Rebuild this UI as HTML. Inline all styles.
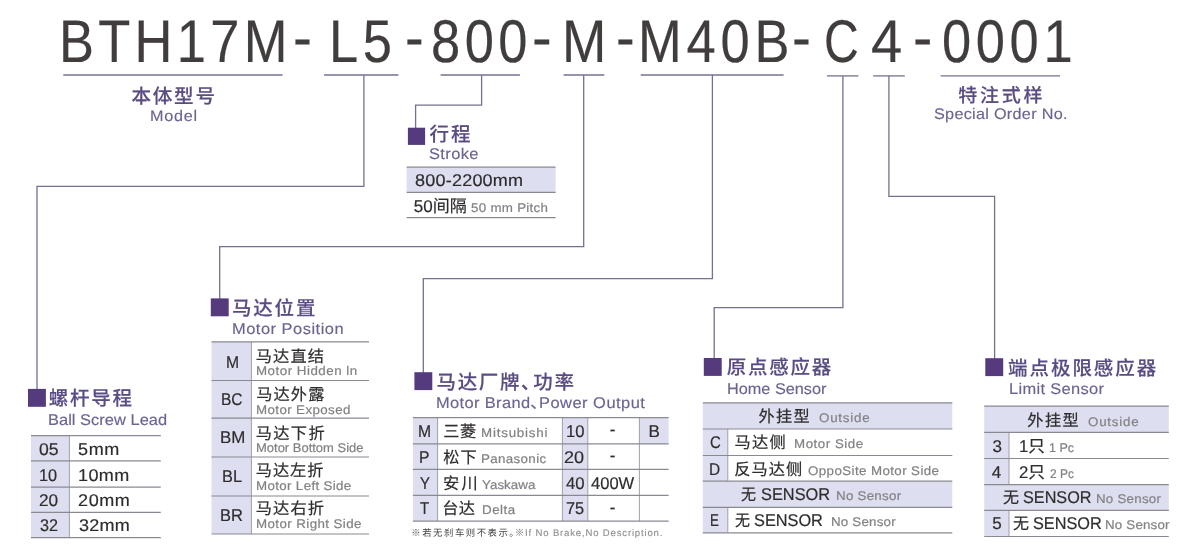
<!DOCTYPE html>
<html lang="zh-CN">
<head>
<meta charset="utf-8">
<title>BTH17M Ordering Code</title>
<style>
*{margin:0;padding:0;box-sizing:border-box}
html,body{width:1200px;height:557px;background:#fff;overflow:hidden}
body{font-family:"Liberation Sans", "Noto Sans CJK SC", sans-serif;position:relative;color:#2f2c2d}
#stage{position:absolute;left:0;top:0;width:1200px;height:557px;overflow:hidden;background:#fff;will-change:transform;-webkit-font-smoothing:antialiased;text-rendering:geometricPrecision}
section{position:absolute;left:0;top:0;width:1200px;height:557px}
h1,h2,p{font:inherit}
svg{position:absolute;left:0;top:0;display:block;overflow:visible}
.fill{fill:#dddff0}
.mark{fill:#553a7e}
.bord{fill:none;stroke:#8a8992;stroke-width:1.2}
.vbord{fill:none;stroke:#a09fac;stroke-width:1}
.conn{fill:none;stroke:#74718f;stroke-width:1.3;stroke-linejoin:miter}
.t{position:absolute;display:block;white-space:nowrap;line-height:1;transform-origin:0 0}
.c0{color:#403d3c}
.c1{color:#5a4b83}
.c2{color:#6b6391}
.c3{color:#2f2c2d}
.c4{color:#838183}
.c5{color:#474445}
.c6{color:#8f8d8f}
.k0{-webkit-text-stroke:0.2px currentColor}
.k1{-webkit-text-stroke:0.15px currentColor}
.k2{-webkit-text-stroke:0px currentColor}
.k3{-webkit-text-stroke:0.1px currentColor}
</style>
</head>
<body>
<div id="stage">
<section id="code">
<svg width="1200" height="557" viewBox="0 0 1200 557" aria-hidden="true">
<path class="conn" d="M63.3 75H282.5"/>
<path class="conn" d="M940.7 75.9H1060"/>
</svg>
<h1>
<span class="t c0 k0" style="left:59.33px;top:11px;font-size:60.3px;letter-spacing:4.92px;transform:scaleX(0.8700)">BTH17M</span>
<span class="t c0 k0" style="left:293.22px;top:7px;font-size:60.3px;transform:scaleX(0.9427)">-</span>
<span class="t c0 k0" style="left:328.5px;top:11px;font-size:60.3px;letter-spacing:5.37px;transform:scaleX(0.8700)">L5</span>
<span class="t c0 k0" style="left:404.95px;top:7px;font-size:60.3px;transform:scaleX(0.9303)">-</span>
<span class="t c0 k0" style="left:430.96px;top:11px;font-size:60.3px;letter-spacing:5.18px;transform:scaleX(0.8700)">800</span>
<span class="t c0 k0" style="left:531.85px;top:7px;font-size:60.3px;transform:scaleX(0.9802)">-</span>
<span class="t c0 k0" style="left:562.13px;top:11px;font-size:60.3px;transform:scaleX(0.8833)">M</span>
<span class="t c0 k0" style="left:616.48px;top:7px;font-size:60.3px;transform:scaleX(0.9293)">-</span>
<span class="t c0 k0" style="left:638.2px;top:11px;font-size:60.3px;letter-spacing:5.5px;transform:scaleX(0.8700)">M40B</span>
<span class="t c0 k0" style="left:791.87px;top:7px;font-size:60.3px;transform:scaleX(0.9427)">-</span>
<span class="t c0 k0" style="left:824.05px;top:11px;font-size:60.3px;transform:scaleX(0.7973)">C</span>
<span class="t c0 k0" style="left:870.72px;top:11px;font-size:60.3px;transform:scaleX(0.9295)">4</span>
<span class="t c0 k0" style="left:913.42px;top:7px;font-size:60.3px;transform:scaleX(0.9637)">-</span>
<span class="t c0 k0" style="left:942.41px;top:11px;font-size:60.3px;letter-spacing:5.31px;transform:scaleX(0.8700)">0001</span>
</h1>
<h2 class="t c1 k1" style="left:131.49px;top:88px;font-size:19.6px;letter-spacing:1.71px;font-weight:500">本体型号</h2>
<p class="t c2 k1" style="left:149.73px;top:109px;font-size:15.3px;letter-spacing:0.68px;transform:scaleX(1.0600)">Model</p>
<h2 class="t c1 k1" style="left:958.31px;top:87px;font-size:19px;letter-spacing:2.73px;font-weight:500">特注式样</h2>
<p class="t c2 k1" style="left:934.39px;top:107px;font-size:15.3px;letter-spacing:0.27px;transform:scaleX(1.0600)">Special Order No.</p>
</section>
<section id="lead">
<svg width="1200" height="557" viewBox="0 0 1200 557" aria-hidden="true">
<rect class="fill" x="31" y="435.7" width="38.4" height="102"/>
<path class="vbord" d="M69.4 435.7V537.7"/>
<path class="bord" d="M31 435.7H160.8"/>
<path class="bord" d="M31 460.9H160.8"/>
<path class="bord" d="M31 487.1H160.8"/>
<path class="bord" d="M31 512.3H160.8"/>
<path class="bord" d="M31 537.7H160.8"/>
<path class="conn" d="M324.1 75H398.4"/>
<path class="conn" d="M363.9 75V186.4H37V389.9"/>
<rect class="mark" x="28" y="388.9" width="17.9" height="17.9"/>
</svg>
<h2 class="t c1 k1" style="left:48.79px;top:390px;font-size:19.5px;letter-spacing:1.74px;font-weight:500">螺杆导程</h2>
<p class="t c2 k1" style="left:47.92px;top:413px;font-size:15.5px;letter-spacing:0.03px;transform:scaleX(1.0600)">Ball Screw Lead</p>
<span class="t c3 k0" style="left:38.85px;top:441px;font-size:17px;transform:scaleX(1.0345)">05</span>
<span class="t c3 k0" style="left:78.14px;top:441px;font-size:17px;letter-spacing:0.59px;transform:scaleX(1.0600)">5mm</span>
<span class="t c3 k0" style="left:39.03px;top:467px;font-size:17px;transform:scaleX(0.9585)">10</span>
<span class="t c3 k0" style="left:78.07px;top:467px;font-size:17px;letter-spacing:0.38px;transform:scaleX(1.0600)">10mm</span>
<span class="t c3 k0" style="left:38.99px;top:492px;font-size:17px;transform:scaleX(1.0119)">20</span>
<span class="t c3 k0" style="left:77.96px;top:492px;font-size:17px;letter-spacing:0.57px;transform:scaleX(1.0600)">20mm</span>
<span class="t c3 k0" style="left:39.51px;top:517px;font-size:17px;transform:scaleX(0.9533)">32</span>
<span class="t c3 k0" style="left:78.59px;top:517px;font-size:17px;letter-spacing:0.2px;transform:scaleX(1.0600)">32mm</span>
</section>
<section id="stroke">
<svg width="1200" height="557" viewBox="0 0 1200 557" aria-hidden="true">
<rect class="fill" x="406.6" y="167.2" width="149" height="25.1"/>
<path class="bord" d="M406.6 167.2H555.6"/>
<path class="bord" d="M406.6 192.3H555.6"/>
<path class="bord" d="M406.6 217.6H555.6"/>
<path class="conn" d="M440.6 75H519.9"/>
<path class="conn" d="M481.6 75V105.2H415.6V128.7"/>
<rect class="mark" x="407.9" y="127.7" width="17.2" height="17.2"/>
</svg>
<h2 class="t c1 k1" style="left:429.5px;top:126px;font-size:19.5px;letter-spacing:2.01px;font-weight:500">行程</h2>
<p class="t c2 k1" style="left:428.99px;top:147px;font-size:15.5px;letter-spacing:0.36px;transform:scaleX(1.0600)">Stroke</p>
<span class="t c3 k0" style="left:414.54px;top:172px;font-size:17px;letter-spacing:0.2px;transform:scaleX(1.0600)">800-2200mm</span>
<span class="t c3 k0" style="left:413.77px;top:198px;font-size:17px;letter-spacing:0.04px">50间隔</span>
<span class="t c4 k0" style="left:470.52px;top:202px;font-size:12.6px;letter-spacing:0.26px;transform:scaleX(1.0600)">50 mm Pitch</span>
</section>
<section id="motorpos">
<svg width="1200" height="557" viewBox="0 0 1200 557" aria-hidden="true">
<rect class="fill" x="211.5" y="341.8" width="39.9" height="192.2"/>
<path class="vbord" d="M251.4 341.8V534"/>
<path class="bord" d="M211.5 341.8H369"/>
<path class="bord" d="M211.5 380.5H369"/>
<path class="bord" d="M211.5 418.2H369"/>
<path class="bord" d="M211.5 457H369"/>
<path class="bord" d="M211.5 496H369"/>
<path class="bord" d="M211.5 534H369"/>
<path class="conn" d="M563.6 75H604.3"/>
<path class="conn" d="M583.7 75V246.6H219.7V299.4"/>
<rect class="mark" x="210.8" y="298.4" width="17.9" height="17.9"/>
</svg>
<h2 class="t c1 k1" style="left:231.91px;top:300px;font-size:19.5px;letter-spacing:1.83px;font-weight:500">马达位置</h2>
<p class="t c2 k1" style="left:231.72px;top:322px;font-size:15.5px;letter-spacing:0.48px;transform:scaleX(1.0600)">Motor Position</p>
<span class="t c3 k0" style="left:225.67px;top:354px;font-size:17px;transform:scaleX(0.9241)">M</span>
<span class="t c3 k0" style="left:255.74px;top:349px;font-size:16.2px;letter-spacing:1.14px">马达直结</span>
<span class="t c4 k0" style="left:255.54px;top:365px;font-size:12.6px;letter-spacing:0.47px;transform:scaleX(1.0600)">Motor Hidden ln</span>
<span class="t c3 k0" style="left:220.65px;top:391px;font-size:17px;transform:scaleX(0.9133)">BC</span>
<span class="t c3 k0" style="left:256.29px;top:387px;font-size:16.2px;letter-spacing:1.1px">马达外露</span>
<span class="t c4 k0" style="left:255.94px;top:404px;font-size:12.6px;letter-spacing:0.36px;transform:scaleX(1.0600)">Motor Exposed</span>
<span class="t c3 k0" style="left:220.03px;top:429px;font-size:17px;transform:scaleX(0.9945)">BM</span>
<span class="t c3 k0" style="left:255.74px;top:426px;font-size:16.2px;letter-spacing:1.36px">马达下折</span>
<span class="t c4 k0" style="left:255.97px;top:442px;font-size:12.6px;transform:scaleX(1.0303)">Motor Bottom Side</span>
<span class="t c3 k0" style="left:221.72px;top:468px;font-size:17px;transform:scaleX(0.9610)">BL</span>
<span class="t c3 k0" style="left:255.74px;top:463px;font-size:16.2px;letter-spacing:0.96px">马达左折</span>
<span class="t c4 k0" style="left:255.94px;top:480px;font-size:12.6px;letter-spacing:0.32px;transform:scaleX(1.0600)">Motor Left Side</span>
<span class="t c3 k0" style="left:220.01px;top:507px;font-size:17px;transform:scaleX(0.9678)">BR</span>
<span class="t c3 k0" style="left:255.74px;top:501px;font-size:16.2px;letter-spacing:1.19px">马达右折</span>
<span class="t c4 k0" style="left:255.94px;top:518px;font-size:12.6px;letter-spacing:0.38px;transform:scaleX(1.0600)">Motor Right Side</span>
</section>
<section id="brand">
<svg width="1200" height="557" viewBox="0 0 1200 557" aria-hidden="true">
<rect class="fill" x="412.9" y="417.6" width="24.7" height="103.6"/>
<rect class="fill" x="562.4" y="417.6" width="25.4" height="103.6"/>
<rect class="fill" x="639.4" y="417.6" width="29.2" height="26.3"/>
<path class="vbord" d="M437.6 417.6V521.2"/>
<path class="vbord" d="M562.4 417.6V521.2"/>
<path class="vbord" d="M587.8 417.6V521.2"/>
<path class="vbord" d="M639.4 417.6V521.2"/>
<path class="bord" d="M412.9 417.6H668.6"/>
<path class="bord" d="M412.9 443.9H668.6"/>
<path class="bord" d="M412.9 469.4H668.6"/>
<path class="bord" d="M412.9 495.4H668.6"/>
<path class="bord" d="M412.9 521.2H668.6"/>
<path class="conn" d="M640.7 75H783.6"/>
<path class="conn" d="M712.4 75V278.6H423.3V373.2"/>
<rect class="mark" x="414.4" y="372.2" width="17.9" height="17.9"/>
</svg>
<h2 class="t c1 k1" style="left:436.49px;top:374px;font-size:19.5px;letter-spacing:1.67px;font-weight:500">马达厂牌</h2>
<h2 class="t c1 k1" style="left:521.48px;top:374px;font-size:19.5px;transform:scaleX(0.9684);font-weight:500">、</h2>
<h2 class="t c1 k1" style="left:533.19px;top:374px;font-size:19.5px;letter-spacing:1.72px;font-weight:500">功率</h2>
<p class="t c2 k1" style="left:436.12px;top:396px;font-size:15.5px;letter-spacing:0.35px;transform:scaleX(1.0600)">Motor Brand</p>
<p class="t c2 k1" style="left:530.37px;top:396px;font-size:15.5px;transform:scaleX(1.1250)">、</p>
<p class="t c2 k1" style="left:538.72px;top:396px;font-size:15.5px;letter-spacing:0.47px;transform:scaleX(1.0600)">Power Output</p>
<span class="t c3 k0" style="left:418.37px;top:423px;font-size:17px;transform:scaleX(0.9241)">M</span>
<span class="t c3 k0" style="left:443.14px;top:424px;font-size:16.2px;letter-spacing:0.57px">三菱</span>
<span class="t c4 k0" style="left:480.74px;top:427px;font-size:12.6px;letter-spacing:0.75px;transform:scaleX(1.0600)">Mitsubishi</span>
<span class="t c3 k0" style="left:565.66px;top:423px;font-size:17px;transform:scaleX(0.9757)">10</span>
<span class="t c3 k0" style="left:609.67px;top:421px;font-size:17px">-</span>
<span class="t c3 k0" style="left:419.27px;top:449px;font-size:17px;transform:scaleX(0.9250)">P</span>
<span class="t c3 k0" style="left:443.29px;top:450px;font-size:16.2px;letter-spacing:0.97px">松下</span>
<span class="t c4 k0" style="left:480.64px;top:453px;font-size:12.6px;letter-spacing:0.33px;transform:scaleX(1.0600)">Panasonic</span>
<span class="t c3 k0" style="left:564.36px;top:449px;font-size:17px;letter-spacing:0.05px;transform:scaleX(1.0600)">20</span>
<span class="t c3 k0" style="left:609.67px;top:447px;font-size:17px">-</span>
<span class="t c3 k0" style="left:419.87px;top:475px;font-size:17px;transform:scaleX(0.8723)">Y</span>
<span class="t c3 k0" style="left:442.99px;top:476px;font-size:16.2px;letter-spacing:2.43px">安川</span>
<span class="t c4 k0" style="left:481.69px;top:479px;font-size:12.6px;letter-spacing:0.03px;transform:scaleX(1.0600)">Yaskawa</span>
<span class="t c3 k0" style="left:565.54px;top:475px;font-size:17px;transform:scaleX(0.9824)">40</span>
<span class="t c3 k0" style="left:590.64px;top:475px;font-size:17px;transform:scaleX(0.9729)">400W</span>
<span class="t c3 k0" style="left:419.8px;top:500px;font-size:17px;transform:scaleX(0.8800)">T</span>
<span class="t c3 k0" style="left:442.18px;top:501px;font-size:16.2px;letter-spacing:0.43px">台达</span>
<span class="t c4 k0" style="left:481.54px;top:504px;font-size:12.6px;letter-spacing:0.5px;transform:scaleX(1.0600)">Delta</span>
<span class="t c3 k0" style="left:566.24px;top:500px;font-size:17px;transform:scaleX(0.9585)">75</span>
<span class="t c3 k0" style="left:609.67px;top:499px;font-size:17px">-</span>
<span class="t c3 k0" style="left:648.47px;top:423px;font-size:17px">B</span>
<span class="t c5 k2" style="left:411.35px;top:528px;font-size:9.4px;letter-spacing:1.51px">※若无刹车则不表示。</span>
<span class="t c6 k3" style="left:514.7px;top:529px;font-size:9.6px;letter-spacing:0.81px">※If No Brake,No Description.</span>
</section>
<section id="home">
<svg width="1200" height="557" viewBox="0 0 1200 557" aria-hidden="true">
<rect class="fill" x="702.8" y="402.8" width="249.5" height="26.2"/>
<rect class="fill" x="702.8" y="429" width="25" height="52.2"/>
<rect class="fill" x="702.8" y="481.2" width="249.5" height="26.1"/>
<rect class="fill" x="702.8" y="507.3" width="25" height="25.5"/>
<path class="vbord" d="M727.8 429V481.2"/>
<path class="vbord" d="M727.8 507.3V532.8"/>
<path class="bord" d="M702.8 402.8H952.3"/>
<path class="bord" d="M702.8 429H952.3"/>
<path class="bord" d="M702.8 455.5H952.3"/>
<path class="bord" d="M702.8 481.2H952.3"/>
<path class="bord" d="M702.8 507.3H952.3"/>
<path class="bord" d="M702.8 532.8H952.3"/>
<path class="conn" d="M827 75.9H858.4"/>
<path class="conn" d="M842.9 75.9V307.6H714.2V359"/>
<rect class="mark" x="703.8" y="358" width="17.9" height="17.9"/>
</svg>
<h2 class="t c1 k1" style="left:726.7px;top:359px;font-size:19.5px;letter-spacing:1.78px;font-weight:500">原点感应器</h2>
<p class="t c2 k1" style="left:726.58px;top:382px;font-size:15.5px;transform:scaleX(1.0495)">Home Sensor</p>
<span class="t c3 k0" style="left:758.39px;top:409px;font-size:16.2px;letter-spacing:1.33px">外挂型</span>
<span class="t c4 k0" style="left:818.62px;top:412px;font-size:12.6px;letter-spacing:0.73px;transform:scaleX(1.0600)">Outside</span>
<span class="t c3 k0" style="left:709.8px;top:434px;font-size:17px;transform:scaleX(0.8815)">C</span>
<span class="t c3 k0" style="left:734.44px;top:435px;font-size:16.2px;letter-spacing:1.39px">马达侧</span>
<span class="t c4 k0" style="left:794.44px;top:438px;font-size:12.6px;letter-spacing:0.48px;transform:scaleX(1.0600)">Motor Side</span>
<span class="t c3 k0" style="left:709.19px;top:461px;font-size:17px;transform:scaleX(0.9074)">D</span>
<span class="t c3 k0" style="left:734.14px;top:462px;font-size:16.2px;letter-spacing:1.12px">反马达侧</span>
<span class="t c4 k0" style="left:807.67px;top:465px;font-size:12.6px;letter-spacing:0.37px;transform:scaleX(1.0600)">OppoSite Motor Side</span>
<span class="t c3 k0" style="left:740.8px;top:487px;font-size:16.2px;transform:scaleX(0.9259)">无</span>
<span class="t c3 k0" style="left:761.1px;top:486px;font-size:17px;transform:scaleX(0.9624)">SENSOR</span>
<span class="t c4 k0" style="left:836.04px;top:490px;font-size:12.6px;letter-spacing:0.24px;transform:scaleX(1.0600)">No Sensor</span>
<span class="t c3 k0" style="left:709.59px;top:512px;font-size:17px;transform:scaleX(0.7841)">E</span>
<span class="t c3 k0" style="left:734.8px;top:513px;font-size:16.2px;transform:scaleX(0.9259)">无</span>
<span class="t c3 k0" style="left:754.1px;top:512px;font-size:17px;transform:scaleX(0.9596)">SENSOR</span>
<span class="t c4 k0" style="left:831.24px;top:516px;font-size:12.6px;letter-spacing:0.18px;transform:scaleX(1.0600)">No Sensor</span>
</section>
<section id="limit">
<svg width="1200" height="557" viewBox="0 0 1200 557" aria-hidden="true">
<rect class="fill" x="984.2" y="406.1" width="184.6" height="26.2"/>
<rect class="fill" x="984.2" y="432.3" width="24.8" height="52.4"/>
<rect class="fill" x="984.2" y="484.7" width="184.6" height="25.6"/>
<rect class="fill" x="984.2" y="510.3" width="24.8" height="26.2"/>
<path class="vbord" d="M1009 432.3V484.7"/>
<path class="vbord" d="M1009 510.3V536.5"/>
<path class="bord" d="M984.2 406.1H1168.8"/>
<path class="bord" d="M984.2 432.3H1168.8"/>
<path class="bord" d="M984.2 458.5H1168.8"/>
<path class="bord" d="M984.2 484.7H1168.8"/>
<path class="bord" d="M984.2 510.3H1168.8"/>
<path class="bord" d="M984.2 536.5H1168.8"/>
<path class="conn" d="M873.2 75.9H904.8"/>
<path class="conn" d="M888.9 75.9V196.4H994.6V359.2"/>
<rect class="mark" x="985.3" y="358.2" width="17.9" height="17.9"/>
</svg>
<h2 class="t c1 k1" style="left:1007.99px;top:360px;font-size:19.5px;letter-spacing:1.97px;font-weight:500">端点极限感应器</h2>
<p class="t c2 k1" style="left:1008.82px;top:382px;font-size:15.5px;letter-spacing:0.32px;transform:scaleX(1.0600)">Limit Sensor</p>
<span class="t c3 k0" style="left:1027.29px;top:413px;font-size:16.2px;letter-spacing:1.43px">外挂型</span>
<span class="t c4 k0" style="left:1087.52px;top:416px;font-size:12.6px;letter-spacing:0.73px;transform:scaleX(1.0600)">Outside</span>
<span class="t c3 k0" style="left:992.47px;top:438px;font-size:17px">3</span>
<span class="t c3 k0" style="left:1018.76px;top:438px;font-size:17px;transform:scaleX(0.9799)">1只</span>
<span class="t c4 k0" style="left:1049.46px;top:442px;font-size:12.6px;transform:scaleX(0.9891)">1 Pc</span>
<span class="t c3 k0" style="left:991.73px;top:464px;font-size:17px">4</span>
<span class="t c3 k0" style="left:1018.51px;top:464px;font-size:17px;transform:scaleX(0.9855)">2只</span>
<span class="t c4 k0" style="left:1049.91px;top:468px;font-size:12.6px;transform:scaleX(0.9477)">2 Pc</span>
<span class="t c3 k0" style="left:1003.2px;top:490px;font-size:16.2px;transform:scaleX(0.9877)">无</span>
<span class="t c3 k0" style="left:1023.25px;top:489px;font-size:17px;transform:scaleX(0.9538)">SENSOR</span>
<span class="t c4 k0" style="left:1096.44px;top:493px;font-size:12.6px;letter-spacing:0.22px;transform:scaleX(1.0600)">No Sensor</span>
<span class="t c3 k0" style="left:992.37px;top:515px;font-size:17px">5</span>
<span class="t c3 k0" style="left:1013.1px;top:516px;font-size:16.2px;transform:scaleX(0.9877)">无</span>
<span class="t c3 k0" style="left:1033.47px;top:515px;font-size:17px;transform:scaleX(0.9574)">SENSOR</span>
<span class="t c4 k0" style="left:1105.21px;top:519px;font-size:12.6px;letter-spacing:0.17px;transform:scaleX(1.0600)">No Sensor</span>
</section>
</div>
</body>
</html>
